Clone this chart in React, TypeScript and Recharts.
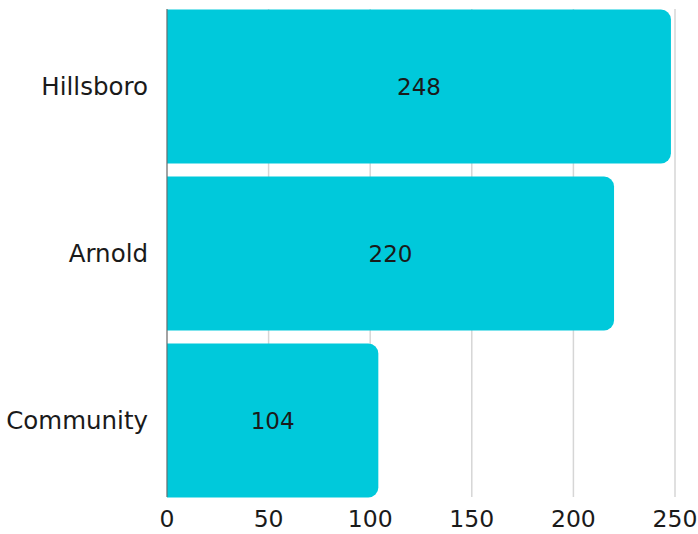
import React from "react";
import { BarChart, Bar, XAxis, YAxis, CartesianGrid, LabelList } from "recharts";

const hospitals = ["Hillsboro", "Arnold", "Community"];
const counts = [248, 220, 104];
const xTicks = [0, 50, 100, 150, 200, 250];

const data = hospitals.map((name, i) => ({ name, value: counts[i] }));

const FONT = "'DejaVu Sans', sans-serif";

export default function App() {
  return (
    <div style={{ position: "absolute", left: 0, top: 0 }}>
      <BarChart
        width={698}
        height={534}
        data={data}
        layout="vertical"
        margin={{ top: 9, right: 23, bottom: 0, left: 0 }}
        barSize={154}
      >
        {/* only vertical grid lines */}
        <CartesianGrid horizontal={false} stroke="#d6d6d6" strokeWidth={1.5} />
        <XAxis
          type="number"
          domain={[0, 250]}
          ticks={xTicks}
          height={37}
          axisLine={false}
          tickLine={false}
          tickMargin={7}
          tick={{ fill: "#1a1a1a", fontSize: 23.5, fontFamily: FONT }}
        />
        <YAxis
          type="category"
          dataKey="name"
          width={167}
          padding={{ top: -6.5, bottom: -6.5 }}
          tickLine={false}
          axisLine={{ stroke: "#666" }}
          tickMargin={13}
          tick={{ fill: "#1a1a1a", fontSize: 24.5, fontFamily: FONT }}
        />
        <Bar dataKey="value" fill="#00C9DB" radius={[0, 10, 10, 0]} isAnimationActive={false}>
          <LabelList
            dataKey="value"
            position="center"
            fill="#1a1a1a"
            style={{ fontSize: 23, fontFamily: FONT }}
          />
        </Bar>
      </BarChart>
    </div>
  );
}
